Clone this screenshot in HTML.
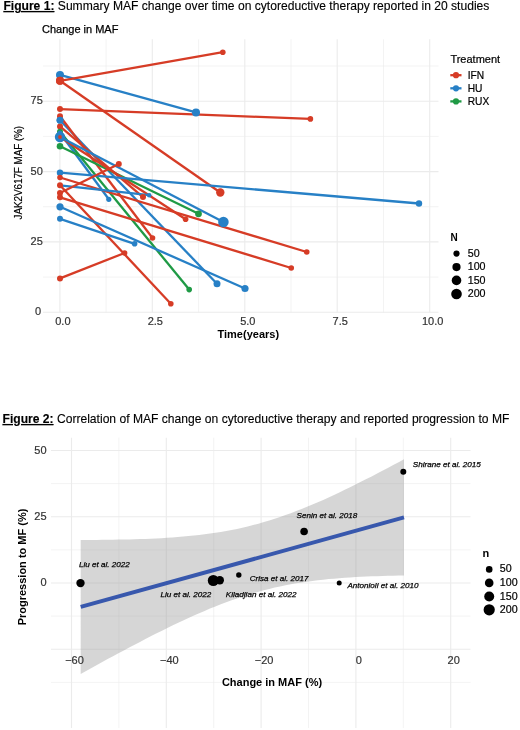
<!DOCTYPE html>
<html><head><meta charset="utf-8"><title>Figures</title>
<style>
html,body{margin:0;padding:0;background:#fff;}
body{width:520px;height:730px;overflow:hidden;}
svg{display:block;filter:blur(0.3px);font-family:"Liberation Sans",sans-serif;}
</style></head><body>
<svg width="520" height="730" viewBox="0 0 520 730">
<rect width="520" height="730" fill="#fff"/>
<line x1="106.1" y1="39.3" x2="106.1" y2="312.6" stroke="#ebebeb" stroke-width="0.6"/>
<line x1="198.6" y1="39.3" x2="198.6" y2="312.6" stroke="#ebebeb" stroke-width="0.6"/>
<line x1="291.0" y1="39.3" x2="291.0" y2="312.6" stroke="#ebebeb" stroke-width="0.6"/>
<line x1="383.5" y1="39.3" x2="383.5" y2="312.6" stroke="#ebebeb" stroke-width="0.6"/>
<line x1="43" y1="277.1" x2="438.5" y2="277.1" stroke="#ebebeb" stroke-width="0.6"/>
<line x1="43" y1="206.7" x2="438.5" y2="206.7" stroke="#ebebeb" stroke-width="0.6"/>
<line x1="43" y1="136.4" x2="438.5" y2="136.4" stroke="#ebebeb" stroke-width="0.6"/>
<line x1="43" y1="66.0" x2="438.5" y2="66.0" stroke="#ebebeb" stroke-width="0.6"/>
<line x1="59.9" y1="39.3" x2="59.9" y2="312.6" stroke="#ebebeb" stroke-width="1.1"/>
<line x1="152.3" y1="39.3" x2="152.3" y2="312.6" stroke="#ebebeb" stroke-width="1.1"/>
<line x1="244.8" y1="39.3" x2="244.8" y2="312.6" stroke="#ebebeb" stroke-width="1.1"/>
<line x1="337.2" y1="39.3" x2="337.2" y2="312.6" stroke="#ebebeb" stroke-width="1.1"/>
<line x1="429.7" y1="39.3" x2="429.7" y2="312.6" stroke="#ebebeb" stroke-width="1.1"/>
<line x1="43" y1="312.3" x2="438.5" y2="312.3" stroke="#ebebeb" stroke-width="1.1"/>
<line x1="43" y1="241.9" x2="438.5" y2="241.9" stroke="#ebebeb" stroke-width="1.1"/>
<line x1="43" y1="171.6" x2="438.5" y2="171.6" stroke="#ebebeb" stroke-width="1.1"/>
<line x1="43" y1="101.2" x2="438.5" y2="101.2" stroke="#ebebeb" stroke-width="1.1"/>
<line x1="60" y1="74.9" x2="196" y2="112.4" stroke="#2780c6" stroke-width="2.3"/>
<line x1="60" y1="80.8" x2="222.8" y2="52.2" stroke="#d63c26" stroke-width="2.3"/>
<line x1="60" y1="80.8" x2="220.3" y2="192.5" stroke="#d63c26" stroke-width="2.3"/>
<line x1="60" y1="109.1" x2="310.4" y2="118.9" stroke="#d63c26" stroke-width="2.3"/>
<line x1="60" y1="120.2" x2="217" y2="283.8" stroke="#2780c6" stroke-width="2.3"/>
<line x1="60" y1="116.3" x2="152.5" y2="238" stroke="#d63c26" stroke-width="2.3"/>
<line x1="60" y1="126.4" x2="143" y2="197.1" stroke="#d63c26" stroke-width="2.3"/>
<line x1="60" y1="131.7" x2="189.2" y2="289.6" stroke="#1f9a45" stroke-width="2.3"/>
<line x1="60" y1="133" x2="108.8" y2="199.3" stroke="#2780c6" stroke-width="2.3"/>
<line x1="60" y1="146.2" x2="198.5" y2="213.8" stroke="#1f9a45" stroke-width="2.3"/>
<line x1="60" y1="137" x2="185.6" y2="219.2" stroke="#d63c26" stroke-width="2.3"/>
<line x1="60" y1="137" x2="223.4" y2="222" stroke="#2780c6" stroke-width="2.3"/>
<line x1="60" y1="172.7" x2="419" y2="203.5" stroke="#2780c6" stroke-width="2.3"/>
<line x1="60" y1="177.5" x2="306.75" y2="252" stroke="#d63c26" stroke-width="2.3"/>
<line x1="60" y1="185.3" x2="149.2" y2="195.2" stroke="#2780c6" stroke-width="2.3"/>
<line x1="60" y1="185.3" x2="170.8" y2="303.8" stroke="#d63c26" stroke-width="2.3"/>
<line x1="60" y1="193.0" x2="118.8" y2="164" stroke="#d63c26" stroke-width="2.3"/>
<line x1="60" y1="197.3" x2="291.25" y2="268" stroke="#d63c26" stroke-width="2.3"/>
<line x1="60" y1="206.8" x2="245" y2="288.5" stroke="#2780c6" stroke-width="2.3"/>
<line x1="60" y1="218.8" x2="134.6" y2="243.8" stroke="#2780c6" stroke-width="2.3"/>
<line x1="60" y1="278.4" x2="124.6" y2="253" stroke="#d63c26" stroke-width="2.3"/>
<circle cx="60" cy="74.9" r="4.0" fill="#2780c6"/>
<circle cx="196" cy="112.4" r="4.0" fill="#2780c6"/>
<circle cx="60" cy="80.8" r="4.0" fill="#d63c26"/>
<circle cx="222.8" cy="52.2" r="2.8" fill="#d63c26"/>
<circle cx="60" cy="80.8" r="4.0" fill="#d63c26"/>
<circle cx="220.3" cy="192.5" r="4.2" fill="#d63c26"/>
<circle cx="60" cy="109.1" r="3.0" fill="#d63c26"/>
<circle cx="310.4" cy="118.9" r="2.8" fill="#d63c26"/>
<circle cx="60" cy="120.2" r="3.4" fill="#2780c6"/>
<circle cx="217" cy="283.8" r="3.5" fill="#2780c6"/>
<circle cx="60" cy="116.3" r="3.0" fill="#d63c26"/>
<circle cx="152.5" cy="238" r="2.8" fill="#d63c26"/>
<circle cx="60" cy="126.4" r="3.0" fill="#d63c26"/>
<circle cx="143" cy="197.1" r="3.0" fill="#d63c26"/>
<circle cx="60" cy="131.7" r="3.0" fill="#1f9a45"/>
<circle cx="189.2" cy="289.6" r="2.8" fill="#1f9a45"/>
<circle cx="60" cy="133" r="2.5" fill="#2780c6"/>
<circle cx="108.8" cy="199.3" r="2.6" fill="#2780c6"/>
<circle cx="60" cy="146.2" r="3.3" fill="#1f9a45"/>
<circle cx="198.5" cy="213.8" r="3.4" fill="#1f9a45"/>
<circle cx="60" cy="137" r="3.0" fill="#d63c26"/>
<circle cx="185.6" cy="219.2" r="2.8" fill="#d63c26"/>
<circle cx="60" cy="137" r="5.2" fill="#2780c6"/>
<circle cx="223.4" cy="222" r="5.3" fill="#2780c6"/>
<circle cx="60" cy="172.7" r="3.2" fill="#2780c6"/>
<circle cx="419" cy="203.5" r="3.2" fill="#2780c6"/>
<circle cx="60" cy="177.5" r="2.8" fill="#d63c26"/>
<circle cx="306.75" cy="252" r="2.8" fill="#d63c26"/>
<circle cx="60" cy="185.3" r="2.3" fill="#2780c6"/>
<circle cx="149.2" cy="195.2" r="2.3" fill="#2780c6"/>
<circle cx="60" cy="185.3" r="3.0" fill="#d63c26"/>
<circle cx="170.8" cy="303.8" r="2.8" fill="#d63c26"/>
<circle cx="60" cy="193.0" r="3.0" fill="#d63c26"/>
<circle cx="118.8" cy="164" r="3.0" fill="#d63c26"/>
<circle cx="60" cy="197.3" r="3.0" fill="#d63c26"/>
<circle cx="291.25" cy="268" r="2.8" fill="#d63c26"/>
<circle cx="60" cy="206.8" r="3.6" fill="#2780c6"/>
<circle cx="245" cy="288.5" r="3.6" fill="#2780c6"/>
<circle cx="60" cy="218.8" r="3.0" fill="#2780c6"/>
<circle cx="134.6" cy="243.8" r="2.8" fill="#2780c6"/>
<circle cx="60" cy="278.4" r="3.0" fill="#d63c26"/>
<circle cx="124.6" cy="253" r="2.8" fill="#d63c26"/>
<circle cx="60" cy="120.2" r="3.4" fill="#2780c6"/>
<circle cx="60" cy="137" r="1.9" fill="#d63c26"/>
<text x="41.2" y="315.3" text-anchor="end" fill="#333" font-size="11" stroke="#333" stroke-width="0.2">0</text>
<text x="42.8" y="244.9" text-anchor="end" fill="#333" font-size="11" stroke="#333" stroke-width="0.2">25</text>
<text x="42.8" y="174.6" text-anchor="end" fill="#333" font-size="11" stroke="#333" stroke-width="0.2">50</text>
<text x="42.8" y="104.2" text-anchor="end" fill="#333" font-size="11" stroke="#333" stroke-width="0.2">75</text>
<text x="62.9" y="325" text-anchor="middle" fill="#333" font-size="11" stroke="#333" stroke-width="0.2">0.0</text>
<text x="155.3" y="325" text-anchor="middle" fill="#333" font-size="11" stroke="#333" stroke-width="0.2">2.5</text>
<text x="247.8" y="325" text-anchor="middle" fill="#333" font-size="11" stroke="#333" stroke-width="0.2">5.0</text>
<text x="340.2" y="325" text-anchor="middle" fill="#333" font-size="11" stroke="#333" stroke-width="0.2">7.5</text>
<text x="432.7" y="325" text-anchor="middle" fill="#333" font-size="11" stroke="#333" stroke-width="0.2">10.0</text>
<text x="248.3" y="337.5" text-anchor="middle" font-size="11" font-weight="bold" fill="#000">Time(years)</text>
<text transform="translate(21.8,172.7) rotate(-90)" text-anchor="middle" font-size="10" letter-spacing="-0.12" fill="#000" stroke="#000" stroke-width="0.15">JAK2V617F MAF (%)</text>
<text x="42" y="33" font-size="11" fill="#000" stroke="#000" stroke-width="0.25">Change in MAF</text>
<text x="450.4" y="62.5" font-size="11" fill="#000" stroke="#000" stroke-width="0.2">Treatment</text>
<line x1="450.3" y1="75.2" x2="461.5" y2="75.2" stroke="#d63c26" stroke-width="2.3"/>
<circle cx="456" cy="75.2" r="3.1" fill="#d63c26"/>
<text x="467.7" y="78.8" font-size="10.2" fill="#000" stroke="#000" stroke-width="0.2">IFN</text>
<line x1="450.3" y1="88.3" x2="461.5" y2="88.3" stroke="#2780c6" stroke-width="2.3"/>
<circle cx="456" cy="88.3" r="3.1" fill="#2780c6"/>
<text x="467.7" y="91.9" font-size="10.2" fill="#000" stroke="#000" stroke-width="0.2">HU</text>
<line x1="450.3" y1="101.4" x2="461.5" y2="101.4" stroke="#1f9a45" stroke-width="2.3"/>
<circle cx="456" cy="101.4" r="3.1" fill="#1f9a45"/>
<text x="467.7" y="105.0" font-size="10.2" fill="#000" stroke="#000" stroke-width="0.2">RUX</text>
<text x="450.4" y="241.2" font-size="10" font-weight="bold" fill="#000">N</text>
<circle cx="456.5" cy="253.6" r="3.1" fill="#000"/>
<text x="467.7" y="256.8" font-size="10.7" fill="#000" stroke="#000" stroke-width="0.2">50</text>
<circle cx="456.5" cy="267.1" r="4.1" fill="#000"/>
<text x="467.7" y="270.3" font-size="10.7" fill="#000" stroke="#000" stroke-width="0.2">100</text>
<circle cx="456.5" cy="280.4" r="4.8" fill="#000"/>
<text x="467.7" y="283.6" font-size="10.7" fill="#000" stroke="#000" stroke-width="0.2">150</text>
<circle cx="456.5" cy="294" r="5.3" fill="#000"/>
<text x="467.7" y="297.2" font-size="10.7" fill="#000" stroke="#000" stroke-width="0.2">200</text>
<line x1="118.9" y1="437.7" x2="118.9" y2="728" stroke="#ebebeb" stroke-width="0.6"/>
<line x1="213.7" y1="437.7" x2="213.7" y2="728" stroke="#ebebeb" stroke-width="0.6"/>
<line x1="308.5" y1="437.7" x2="308.5" y2="728" stroke="#ebebeb" stroke-width="0.6"/>
<line x1="403.3" y1="437.7" x2="403.3" y2="728" stroke="#ebebeb" stroke-width="0.6"/>
<line x1="51" y1="483.6" x2="470.5" y2="483.6" stroke="#ebebeb" stroke-width="0.6"/>
<line x1="51" y1="549.9" x2="470.5" y2="549.9" stroke="#ebebeb" stroke-width="0.6"/>
<line x1="51" y1="616.1" x2="470.5" y2="616.1" stroke="#ebebeb" stroke-width="0.6"/>
<line x1="51" y1="682.4" x2="470.5" y2="682.4" stroke="#ebebeb" stroke-width="0.6"/>
<line x1="71.5" y1="437.7" x2="71.5" y2="728" stroke="#ebebeb" stroke-width="1.1"/>
<line x1="166.3" y1="437.7" x2="166.3" y2="728" stroke="#ebebeb" stroke-width="1.1"/>
<line x1="261.1" y1="437.7" x2="261.1" y2="728" stroke="#ebebeb" stroke-width="1.1"/>
<line x1="355.9" y1="437.7" x2="355.9" y2="728" stroke="#ebebeb" stroke-width="1.1"/>
<line x1="450.7" y1="437.7" x2="450.7" y2="728" stroke="#ebebeb" stroke-width="1.1"/>
<line x1="51" y1="450.5" x2="470.5" y2="450.5" stroke="#ebebeb" stroke-width="1.1"/>
<line x1="51" y1="516.8" x2="470.5" y2="516.8" stroke="#ebebeb" stroke-width="1.1"/>
<line x1="51" y1="583.0" x2="470.5" y2="583.0" stroke="#ebebeb" stroke-width="1.1"/>
<line x1="51" y1="649.2" x2="470.5" y2="649.2" stroke="#ebebeb" stroke-width="1.1"/>
<polygon points="80.7,539.9 86.1,539.9 91.5,539.9 96.9,539.9 102.3,539.8 107.6,539.8 113.0,539.7 118.4,539.6 123.8,539.5 129.2,539.4 134.6,539.3 140.0,539.1 145.4,538.9 150.7,538.7 156.1,538.4 161.5,538.2 166.9,537.8 172.3,537.5 177.7,537.1 183.1,536.6 188.5,536.1 193.9,535.6 199.2,535.0 204.6,534.3 210.0,533.6 215.4,532.8 220.8,532.0 226.2,531.0 231.6,530.0 237.0,528.9 242.4,527.7 247.7,526.5 253.1,525.1 258.5,523.7 263.9,522.1 269.3,520.5 274.7,518.8 280.1,517.0 285.5,515.1 290.8,513.2 296.2,511.1 301.6,509.0 307.0,506.8 312.4,504.6 317.8,502.2 323.2,499.9 328.6,497.4 334.0,494.9 339.3,492.4 344.7,489.8 350.1,487.2 355.5,484.5 360.9,481.8 366.3,479.1 371.7,476.4 377.1,473.6 382.4,470.8 387.8,467.9 393.2,465.1 398.6,462.2 404.0,459.3 404.0,575.5 398.6,575.6 393.2,575.7 387.8,575.8 382.4,576.0 377.1,576.2 371.7,576.3 366.3,576.6 360.9,576.8 355.5,577.1 350.1,577.4 344.7,577.8 339.3,578.2 334.0,578.7 328.6,579.1 323.2,579.7 317.8,580.3 312.4,581.0 307.0,581.7 301.6,582.5 296.2,583.3 290.8,584.3 285.5,585.3 280.1,586.4 274.7,587.6 269.3,588.9 263.9,590.2 258.5,591.7 253.1,593.2 247.7,594.8 242.4,596.6 237.0,598.4 231.6,600.3 226.2,602.2 220.8,604.3 215.4,606.4 210.0,608.6 204.6,610.9 199.2,613.2 193.9,615.6 188.5,618.0 183.1,620.5 177.7,623.0 172.3,625.6 166.9,628.2 161.5,630.9 156.1,633.6 150.7,636.3 145.4,639.1 140.0,641.9 134.6,644.7 129.2,647.5 123.8,650.4 118.4,653.3 113.0,656.2 107.6,659.1 102.3,662.0 96.9,665.0 91.5,668.0 86.1,670.9 80.7,673.9" fill="#999999" fill-opacity="0.4"/>
<line x1="80.7" y1="606.9" x2="404" y2="517.4" stroke="#3858ad" stroke-width="4"/>
<circle cx="80.5" cy="583.1" r="4.2" fill="#000"/>
<circle cx="213.3" cy="580.5" r="5.5" fill="#000"/>
<circle cx="219.8" cy="580.2" r="4.2" fill="#000"/>
<circle cx="238.8" cy="575" r="2.7" fill="#000"/>
<circle cx="304.1" cy="531.5" r="3.8" fill="#000"/>
<circle cx="339.2" cy="583" r="2.5" fill="#000"/>
<circle cx="403.3" cy="471.8" r="3.0" fill="#000"/>
<text x="78.9" y="567.2" font-size="8.1" font-style="italic" fill="#000" stroke="#000" stroke-width="0.25">Liu et al. 2022</text>
<text x="296.5" y="517.7" font-size="8.1" font-style="italic" fill="#000" stroke="#000" stroke-width="0.25">Senin et al. 2018</text>
<text x="412.8" y="467.4" font-size="8.1" font-style="italic" fill="#000" stroke="#000" stroke-width="0.25">Shirane et al. 2015</text>
<text x="249.7" y="580.6" font-size="8.1" font-style="italic" fill="#000" stroke="#000" stroke-width="0.25">Crisa et al. 2017</text>
<text x="160.5" y="597" font-size="8.1" font-style="italic" fill="#000" stroke="#000" stroke-width="0.25">Liu et al. 2022</text>
<text x="225.8" y="597" font-size="8.1" font-style="italic" fill="#000" stroke="#000" stroke-width="0.25">Kiladjian et al. 2022</text>
<text x="347.4" y="588.2" font-size="8.1" font-style="italic" fill="#000" stroke="#000" stroke-width="0.25">Antonioli et al. 2010</text>
<text x="46.6" y="453.7" text-anchor="end" fill="#333" font-size="11" stroke="#333" stroke-width="0.2">50</text>
<text x="46.6" y="520.0" text-anchor="end" fill="#333" font-size="11" stroke="#333" stroke-width="0.2">25</text>
<text x="46.6" y="586.2" text-anchor="end" fill="#333" font-size="11" stroke="#333" stroke-width="0.2">0</text>
<text x="74.5" y="664.2" text-anchor="middle" fill="#333" font-size="11" stroke="#333" stroke-width="0.2">−60</text>
<text x="169.3" y="664.2" text-anchor="middle" fill="#333" font-size="11" stroke="#333" stroke-width="0.2">−40</text>
<text x="264.1" y="664.2" text-anchor="middle" fill="#333" font-size="11" stroke="#333" stroke-width="0.2">−20</text>
<text x="358.9" y="664.2" text-anchor="middle" fill="#333" font-size="11" stroke="#333" stroke-width="0.2">0</text>
<text x="453.7" y="664.2" text-anchor="middle" fill="#333" font-size="11" stroke="#333" stroke-width="0.2">20</text>
<text x="272" y="685.8" text-anchor="middle" font-size="11" font-weight="bold" fill="#000">Change in MAF (%)</text>
<text transform="translate(26,567) rotate(-90)" text-anchor="middle" font-size="11" font-weight="bold" fill="#000">Progression to MF (%)</text>
<text x="482.5" y="556.7" font-size="11" font-weight="bold" fill="#000">n</text>
<circle cx="489.2" cy="569.4" r="3.3" fill="#000"/>
<text x="499.8" y="572.4" font-size="10.7" fill="#000" stroke="#000" stroke-width="0.2">50</text>
<circle cx="489.2" cy="582.9" r="4.3" fill="#000"/>
<text x="499.8" y="585.9" font-size="10.7" fill="#000" stroke="#000" stroke-width="0.2">100</text>
<circle cx="489.2" cy="596.5" r="5.0" fill="#000"/>
<text x="499.8" y="599.5" font-size="10.7" fill="#000" stroke="#000" stroke-width="0.2">150</text>
<circle cx="489.2" cy="609.8" r="5.6" fill="#000"/>
<text x="499.8" y="612.8" font-size="10.7" fill="#000" stroke="#000" stroke-width="0.2">200</text>
<text x="3.4" y="10" font-size="12.1" fill="#000" stroke="#000" stroke-width="0.12"><tspan font-weight="bold" text-decoration="underline">Figure 1:</tspan> Summary MAF change over time on cytoreductive therapy reported in 20 studies</text>
<text x="2.5" y="423" font-size="12.1" fill="#000" stroke="#000" stroke-width="0.12"><tspan font-weight="bold" text-decoration="underline">Figure 2:</tspan> Correlation of MAF change on cytoreductive therapy and reported progression to MF</text>
</svg>
</body></html>
